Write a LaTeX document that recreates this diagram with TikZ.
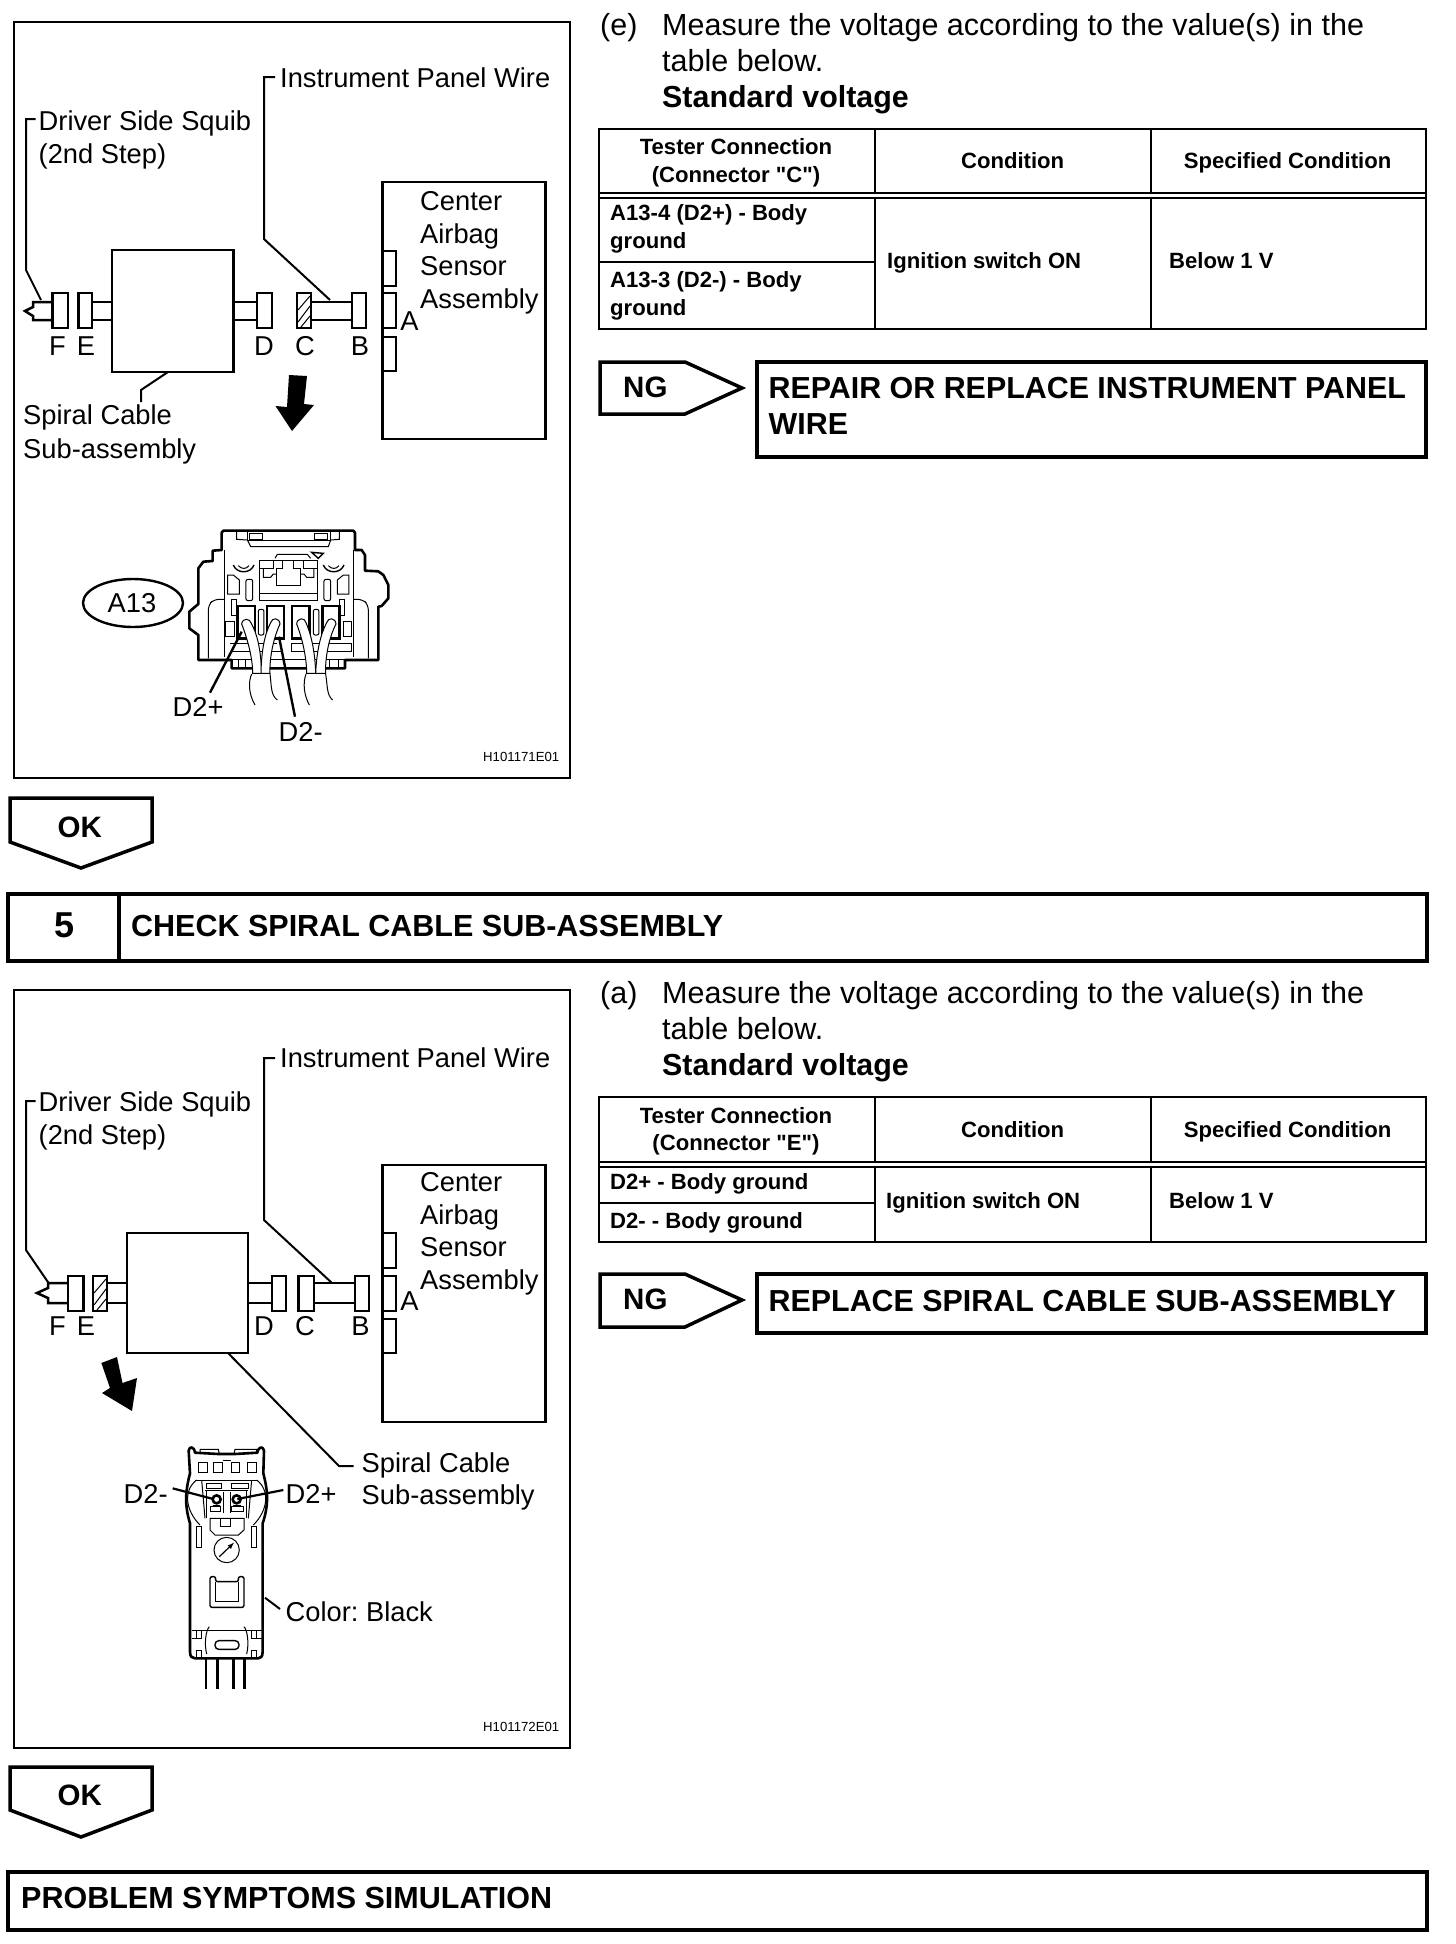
\documentclass[tikz,border=0pt]{standalone}
\usepackage{fontspec}
\setmainfont{Liberation Sans}[Ligatures=TeXOff]
\frenchspacing
\newcommand\fs[1]{\fontsize{#1}{#1}\selectfont}
\newcommand\rectnode[6][]{% opts, name, x1,y1,x2,y2
  \pgfmathsetmacro\rw{#5-#3}\pgfmathsetmacro\rh{#6-#4}
  \pgfmathsetmacro\rx{(#3+#5)/2}\pgfmathsetmacro\ry{(#4+#6)/2}
  \node[partbox,minimum width=\rw pt,minimum height=\rh pt,#1] (#2) at (\rx,\ry) {};}
\tikzset{
  lab/.style={font=\fs{27.3},inner sep=0pt,anchor=base west},
  labc/.style={font=\fs{27.3},inner sep=0pt,anchor=base},
  tiny/.style={font=\fs{13.2},inner sep=0pt,anchor=base west},
  body/.style={font=\fs{30.5},inner sep=0pt,anchor=base west},
  bodyb/.style={font=\fs{30.4}\bfseries,inner sep=0pt,anchor=base west},
  cellb/.style={font=\fs{22.1}\bfseries,inner sep=0pt,anchor=base west},
  cellc/.style={font=\fs{22.1}\bfseries,inner sep=0pt,anchor=base},
  head/.style={font=\fs{30.5}\bfseries,inner sep=0pt,anchor=base west},
  tagtext/.style={font=\fs{29.5}\bfseries,inner sep=0pt,anchor=base west},
  partbox/.style={draw,line width=2.5pt,inner sep=0pt,outer sep=0pt,fill=white},
  leader/.style={line width=2pt},
  wireline/.style={line width=2.5pt},
  heavy/.style={line width=4.5pt},
  mid/.style={line width=3.5pt,line join=miter},
  tbl/.style={line width=2pt},
  fine/.style={line width=1pt},
  thickc/.style={line width=2.6pt,line join=round},
}
\begin{document}
\begin{tikzpicture}[x=1pt,y=-1pt]
\useasboundingbox (0,0) rectangle (1456,1944);
\fill[white] (0,0) rectangle (1456,1944);

%% ---------- frame 1 ----------
\rectnode[line width=2.4pt,fill=none]{frameA}{14}{22}{570}{778}
\node[lab] (instA) at (280,87) {Instrument Panel Wire};
\node[lab] (squibA) at (38.5,130) {Driver Side Squib};
\node[lab] (squibAb) at (38.5,163) {(2nd Step)};
\rectnode{sensorA}{382.5}{182}{545.5}{439}
\rectnode{tabAa}{382.5}{251}{396}{286}
\rectnode{tabAb}{382.5}{293}{396}{328}
\rectnode{tabAc}{382.5}{337}{396}{371}
\rectnode{spiralA}{112}{250}{233.5}{372}
\rectnode{FA}{52.4}{293}{68}{328}
\rectnode{EA}{78.5}{293}{92}{328}
\rectnode{DA}{257}{293}{272}{328}
\rectnode{CA}{297}{293}{311}{328}
\rectnode{BA}{352}{293}{366}{328}
\foreach \yy in {302,320}{
  \draw[wireline] (EA.east |- 0,\yy) -- (spiralA.west |- 0,\yy);
  \draw[wireline] (spiralA.east |- 0,\yy) -- (DA.west |- 0,\yy);
  \draw[wireline] (CA.east |- 0,\yy) -- (BA.west |- 0,\yy);
}
\draw[wireline,line join=miter] (FA.west |- 0,302) -- (33,302) -- (33,307) -- (25,311) -- (33,316) -- (33,320) -- (FA.west |- 0,320);
\draw[fine] (298,310)--(310,296) (298,322)--(310,306) (301,327)--(310,316);
\draw[leader] ([xshift=-5pt]instA.west |- 0,77) -- (264,77) -- (264,239) -- (330,300);
\draw[leader] ([xshift=-3pt]squibA.west |- 0,119) -- (26,119) -- (26,270) -- (41,300);
\node[labc] (FlabA) at (57.4,355) {F};
\node[labc] (ElabA) at (86,355) {E};
\node[labc] (DlabA) at (264,355) {D};
\node[labc] (ClabA) at (305,355) {C};
\node[labc] (BlabA) at (360,355) {B};
\node[labc] (AlabA) at (409.5,330) {A};
\node[lab] (c1A) at (420,210) {Center};
\node[lab] (c2A) at (420,243) {Airbag};
\node[lab] (c3A) at (420,275) {Sensor};
\node[lab] (c4A) at (420,308) {Assembly};
\node[lab] (spA) at (23,424) {Spiral Cable};
\node[lab] (spAb) at (23,458) {Sub-assembly};
\draw[leader] (spiralA.south -| 168,0) -- (141,390) -- (141,402);
\fill (289,375) -- (307,376) -- (304,404) -- (314,405) -- (292,431) -- (275.5,406) -- (287,407) -- cycle;
\node[tiny] (codeA) at (483,761) {H101171E01};

% connector A13
\draw[line width=2.4pt] (133,603) ellipse (50 and 24);
\node[labc,anchor=center] (a13) at (132,603) {A13};
\begin{scope}[shift={(60,500)},scale=1/3]
 \draw[thickc,fill=white] (485,150) -- (485,98) -- (490,92) -- (880,92) -- (885,98) -- (885,150) -- (905,150) -- (915,165) -- (915,212) -- (955,214) -- (970,225) -- (985,255) -- (985,295) -- (965,318) -- (955,320) -- (955,480) -- (855,480) -- (855,505) -- (515,505) -- (515,480) -- (415,480) -- (415,405) -- (388,385) -- (388,335) -- (415,312) -- (415,205) -- (430,185) -- (458,183) -- (458,152) -- cycle;
 \begin{scope}[fine]
 \draw (493,150) -- (493,470) (882,150) -- (882,470);
 \draw (530,95) -- (530,118) -- (562,120) -- (572,140) -- (805,140) -- (812,120) -- (838,118) -- (838,95);
 \draw (562,95) -- (562,120) -- (812,120) -- (812,95);
 \draw (570,100) rectangle (608,118) (765,100) rectangle (803,118);
 \draw (598,180) rectangle (772,302) (598,280) -- (772,280);
 \draw (598,205) -- (640,205) -- (640,180) -- (668,180) -- (668,205) -- (650,205) -- (650,255) -- (722,255) -- (722,205) -- (702,205) -- (702,180) -- (732,180) -- (732,205) -- (772,205);
 \draw (645,175) -- (652,163) -- (742,163) -- (752,175);
 \draw (610,205) -- (610,232) -- (632,232) -- (640,222) -- (650,222);
 \draw (762,205) -- (762,232) -- (740,232) -- (732,222) -- (722,222);
 \draw[line width=1.4pt] (755,157) -- (790,160) -- (775,175) -- cycle;
 \draw[line width=1.4pt] (520,195) .. controls (530,222) and (572,222) .. (582,195);
 \draw (535,197) .. controls (545,208) and (558,208) .. (567,197);
 \draw[line width=1.4pt] (790,195) .. controls (800,222) and (842,222) .. (852,195);
 \draw (805,197) .. controls (815,208) and (828,208) .. (837,197);
 \draw (503,282) -- (503,225) -- (520,225) -- (538,240) -- (538,282) -- cycle;
 \draw (867,282) -- (867,225) -- (850,225) -- (832,240) -- (832,282) -- cycle;
 \draw[rounded corners=2pt] (558,238) rectangle (578,302) (792,238) rectangle (812,302);
 \draw[rounded corners=5pt] (445,475) -- (445,315) -- (462,298) -- (493,298);
 \draw[rounded corners=5pt] (925,475) -- (925,315) -- (908,298) -- (882,298);
 \draw (515,298) rectangle (530,345) (840,298) rectangle (855,345);
 \draw (495,365) rectangle (522,410) (850,365) rectangle (875,410);
 \draw[rounded corners=2pt] (595,328) rectangle (612,405) (760,328) rectangle (777,405);
 \draw (695,430) rectangle (875,455);
 \draw (510,430) -- (650,430) (515,455) -- (665,455) (515,478) -- (855,478);
 \foreach \u in {535,558,810,835} \draw (\u,480) -- (\u,505);
 \end{scope}
 \foreach \a/\b in {533/585,621/672,696/748,788/838}
   \draw[line width=2.8pt] (\a,318) rectangle (\b,415);
 % wires
 \begin{scope}[fine]
 \draw[fill=white] (545,372) .. controls (548,352) and (570,355) .. (574,370) .. controls (590,400) and (602,440) .. (605,520) -- (578,520) .. controls (578,470) and (560,410) .. (545,372) -- cycle;
 \draw[fill=white] (632,368) .. controls (636,352) and (658,352) .. (660,372) .. controls (642,410) and (628,470) .. (630,520) -- (603,520) .. controls (604,450) and (615,400) .. (632,368) -- cycle;
 \draw[fill=white] (710,372) .. controls (712,352) and (735,352) .. (738,368) .. controls (752,400) and (765,450) .. (767,520) -- (740,520) .. controls (740,470) and (725,410) .. (710,372) -- cycle;
 \draw[fill=white] (800,368) .. controls (804,352) and (826,352) .. (828,372) .. controls (808,410) and (795,470) .. (797,520) -- (767,520) .. controls (770,450) and (783,400) .. (800,368) -- cycle;
 \draw (577,520) -- (630,520) (740,520) -- (797,520);
 \draw (575,522) .. controls (565,545) and (565,580) .. (585,615);
 \draw (630,522) .. controls (635,560) and (632,585) .. (652,600);
 \draw (738,522) .. controls (728,550) and (732,585) .. (748,615);
 \draw (797,522) .. controls (803,560) and (800,585) .. (818,600);
 \end{scope}
 \draw[line width=2.4pt] (545,395) -- (450,578);
 \draw[line width=2.4pt] (657,410) -- (705,650);
\end{scope}
\node[lab] (dpA) at (172.5,716) {D2+};
\node[lab] (dmA) at (278.5,741) {D2-};

%% right column 1
\node[body] (e) at (600,35) {(e)};
\node[body] (m1) at (662,35) {Measure the voltage according to the value(s) in the};
\node[body] (m2) at (662,71) {table below.};
\node[bodyb] (m3) at (662,107) {Standard voltage};
\draw[tbl] (599,129) rectangle (1426,329);
\draw[tbl] (599,193) -- (1426,193) (599,198) -- (1426,198) (599,262) -- (875,262);
\draw[tbl] (875,129) -- (875,192) (875,198) -- (875,329) (1151,129) -- (1151,192) (1151,198) -- (1151,329);
\node[cellc] (t1) at (736,154) {Tester Connection};
\node[cellc] (t2) at (736,182) {(Connector "C")};
\node[cellc] (t3) at (1012.6,168) {Condition};
\node[cellc] (t4) at (1287.5,168) {Specified Condition};
\node[cellb] (r1) at (610,220) {A13-4 (D2+) - Body};
\node[cellb] (r1b) at (610,248) {ground};
\node[cellb] (r2) at (610,287) {A13-3 (D2-) - Body};
\node[cellb] (r2b) at (610,315) {ground};
\node[cellb] (r3) at (887,268) {Ignition switch ON};
\node[cellb] (r4) at (1169,268) {Below 1 V};
\draw[mid] (600,362) -- (685,362) -- (742,388) -- (685,414) -- (600,414) -- cycle;
\node[tagtext] (ngA) at (623,397) {NG};
\rectnode[line width=4pt]{repA}{757}{362}{1426}{457}
\node[bodyb] (repAa) at (768.5,398) {REPAIR OR REPLACE INSTRUMENT PANEL};
\node[bodyb] (repAb) at (768.5,434) {WIRE};

%% OK 1
\draw[mid] (10,798) -- (152,798) -- (152,842) -- (81,868) -- (10,842) -- cycle;
\node[tagtext] (okA) at (57.5,837) {OK};

%% section 5 bar
\rectnode[heavy,fill=none]{bar5}{8}{894}{1427}{961}
\draw[heavy] (bar5.north -| 119,0) -- (bar5.south -| 119,0);
\node[font=\fs{36}\bfseries,inner sep=0pt,anchor=base] (num5) at (64.5,937) {5};
\node[head] (t5) at (131,936) {CHECK SPIRAL CABLE SUB-ASSEMBLY};

%% ---------- frame 2 ----------
\rectnode[line width=2.4pt,fill=none]{frameB}{14}{990}{570}{1748}
\node[lab] (instB) at (280,1067) {Instrument Panel Wire};
\node[lab] (squibB) at (38.5,1111) {Driver Side Squib};
\node[lab] (squibBb) at (38.5,1144) {(2nd Step)};
\rectnode{sensorB}{382.5}{1165}{545.5}{1422}
\rectnode{tabBa}{382.5}{1233}{396}{1268}
\rectnode{tabBb}{382.5}{1276}{396}{1311}
\rectnode{tabBc}{382.5}{1319}{396}{1353}
\rectnode{spiralB}{127}{1233}{248}{1353}
\rectnode{FB}{68}{1276}{83.5}{1311}
\rectnode{EB}{93}{1276}{107}{1311}
\rectnode{DB}{272}{1276}{286}{1311}
\rectnode{CB}{298.5}{1276}{314}{1311}
\rectnode{BB}{355}{1276}{369}{1311}
\foreach \yy in {1283,1303}{
  \draw[wireline] (EB.east |- 0,\yy) -- (spiralB.west |- 0,\yy);
  \draw[wireline] (spiralB.east |- 0,\yy) -- (DB.west |- 0,\yy);
  \draw[wireline] (CB.east |- 0,\yy) -- (BB.west |- 0,\yy);
}
\draw[wireline,line join=miter] (FB.west |- 0,1283) -- (48,1283) -- (48,1288) -- (37,1293) -- (48,1298) -- (48,1303) -- (FB.west |- 0,1303);
\draw[fine] (94,1293)--(106,1279) (94,1305)--(106,1289) (97,1310)--(106,1299);
\draw[leader] ([xshift=-5pt]instB.west |- 0,1058) -- (264,1058) -- (264,1220) -- (332,1283);
\draw[leader] ([xshift=-3pt]squibB.west |- 0,1101) -- (26,1101) -- (26,1250) -- (48.6,1283);
\node[labc] (FlabB) at (57.4,1335) {F};
\node[labc] (ElabB) at (86,1335) {E};
\node[labc] (DlabB) at (264,1335) {D};
\node[labc] (ClabB) at (305,1335) {C};
\node[labc] (BlabB) at (360.5,1335) {B};
\node[labc] (AlabB) at (409.5,1310) {A};
\node[lab] (c1B) at (420,1191) {Center};
\node[lab] (c2B) at (420,1224) {Airbag};
\node[lab] (c3B) at (420,1256) {Sensor};
\node[lab] (c4B) at (420,1289) {Assembly};
\node[lab] (spB) at (361.5,1472) {Spiral Cable};
\node[lab] (spBb) at (361.5,1504) {Sub-assembly};
\draw[leader] (spiralB.south -| 228,0) -- (339,1466) -- ([xshift=-8pt]spB.west |- 0,1466);
\fill (101.4,1363) -- (117,1357) -- (122.5,1383) -- (137,1378) -- (132,1411) -- (102,1393) -- (110,1388) -- cycle;
\node[tiny] (codeB) at (483,1731) {H101172E01};
\begin{scope}[shift={(100,1430)},scale=1/3]
 \draw[thickc] (270,130) -- (266,62) .. controls (268,48) and (282,48) .. (285,68) -- (355,72) -- (405,72) -- (472,68) .. controls (476,48) and (490,48) .. (492,62) -- (490,130) .. controls (500,170) and (510,215) .. (488,280) -- (488,665) .. controls (488,680) and (482,685) .. (475,685) -- (285,685) .. controls (276,685) and (270,680) .. (270,665) -- (270,280) .. controls (250,215) and (260,170) .. (270,130) -- cycle;
 \begin{scope}[fine]
 \draw (300,70) -- (300,58) -- (355,58) -- (358,72) (402,72) -- (405,58) -- (470,58) -- (470,70);
 \draw (295,97) rectangle (322,128) (340,97) rectangle (368,128) (393,97) rectangle (418,128) (442,97) rectangle (468,128);
 \draw (368,90) -- (393,90);
 \draw (285,150) -- (475,150);
 \draw (318,160) -- (365,160) -- (365,175) -- (318,175) -- cycle (395,160) -- (445,160) -- (445,175) -- (395,175) -- cycle;
 \draw (315,180) -- (445,180) (320,180) -- (320,265) (440,180) -- (440,265);
 \draw (370,185) -- (370,250) (390,185) -- (390,250);
 \draw (330,265) -- (330,300) -- (345,315) -- (415,315) -- (432,300) -- (432,265) -- cycle;
 \draw (362,265) -- (362,288) -- (392,288) -- (392,265);
 \draw (330,228) rectangle (362,245) (395,228) rectangle (430,245);
 \draw (290,290) rectangle (305,352) (455,290) rectangle (470,352);
 \draw (290,150) .. controls (250,180) and (255,240) .. (300,285);
 \draw (470,150) .. controls (510,180) and (505,240) .. (460,285);
 \draw (305,150) -- (315,265) (455,150) -- (445,265);
 \draw (380,360) circle (38);
 \draw[line width=1.2pt,-latex] (358,380) -- (402,338);
 \draw[line width=1.4pt,rounded corners=2pt] (347,455) -- (347,440) -- (330,440) -- (330,532) -- (432,532) -- (432,440) -- (415,440) -- (415,455) -- cycle;
 \draw (347,455) -- (347,515) -- (415,515) -- (415,455);
 \draw[line width=1.4pt] (275,602) -- (486,602);
 \draw (328,590) .. controls (318,600) and (312,640) .. (320,672);
 \draw (432,590) .. controls (442,600) and (448,640) .. (440,672);
 \draw[line width=1.4pt,rounded corners=3.8pt] (345,632) rectangle (417,658);
 \draw (305,602) -- (305,625) -- (290,625) -- (290,602) (275,625) -- (290,625);
 \draw (290,660) -- (305,660) -- (305,680) (290,660) -- (290,680);
 \draw (455,602) -- (455,625) -- (470,625) -- (470,602) (470,625) -- (486,625);
 \draw (455,660) -- (470,660) -- (470,680) (455,660) -- (455,680);
 \end{scope}
 \draw[line width=2.6pt] (350,208) circle (12) (410,208) circle (12);
 \draw[line width=2pt] (338,228) -- (360,228) (400,228) -- (424,228);
 \foreach \u in {318,352,400,433} \draw[line width=2.4pt] (\u,685) -- (\u,778);
 \draw[line width=2.2pt] (218,175) -- (340,207) (550,180) -- (412,207);
 \draw[line width=2pt] (495,503) -- (540,537);
\end{scope}
\node[lab] (dmB) at (123.5,1503) {D2-};
\node[lab] (dpB) at (285.5,1503) {D2+};
\node[lab] (colB) at (285.5,1621) {Color: Black};

%% right column 2
\node[body] (a) at (600,1003) {(a)};
\node[body] (n1) at (662,1003) {Measure the voltage according to the value(s) in the};
\node[body] (n2) at (662,1039) {table below.};
\node[bodyb] (n3) at (662,1075) {Standard voltage};
\draw[tbl] (599,1097) rectangle (1426,1242);
\draw[tbl] (599,1162) -- (1426,1162) (599,1166.5) -- (1426,1166.5) (599,1203) -- (875,1203);
\draw[tbl] (875,1097) -- (875,1161) (875,1166) -- (875,1242) (1151,1097) -- (1151,1161) (1151,1166) -- (1151,1242);
\node[cellc] (u1) at (736,1123) {Tester Connection};
\node[cellc] (u2) at (736,1150) {(Connector "E")};
\node[cellc] (u3) at (1012.6,1137) {Condition};
\node[cellc] (u4) at (1287.5,1137) {Specified Condition};
\node[cellb] (s1) at (610,1189) {D2+ - Body ground};
\node[cellb] (s2) at (610,1228) {D2- - Body ground};
\node[cellb] (s3) at (886,1208) {Ignition switch ON};
\node[cellb] (s4) at (1169,1208) {Below 1 V};
\draw[mid] (600,1274) -- (685,1274) -- (742,1300) -- (685,1327) -- (600,1327) -- cycle;
\node[tagtext] (ngB) at (623,1309) {NG};
\rectnode[line width=4pt]{repB}{757}{1274}{1426}{1333}
\node[bodyb] (repBa) at (768.5,1311) {REPLACE SPIRAL CABLE SUB-ASSEMBLY};

%% OK 2
\draw[mid] (10,1767) -- (152,1767) -- (152,1810) -- (81,1837) -- (10,1810) -- cycle;
\node[tagtext] (okB) at (57.5,1805) {OK};

%% bottom bar
\rectnode[heavy,fill=none]{barS}{8}{1872}{1427}{1930}
\node[head] (tS) at (21,1908) {PROBLEM SYMPTOMS SIMULATION};
\end{tikzpicture}
\end{document}
